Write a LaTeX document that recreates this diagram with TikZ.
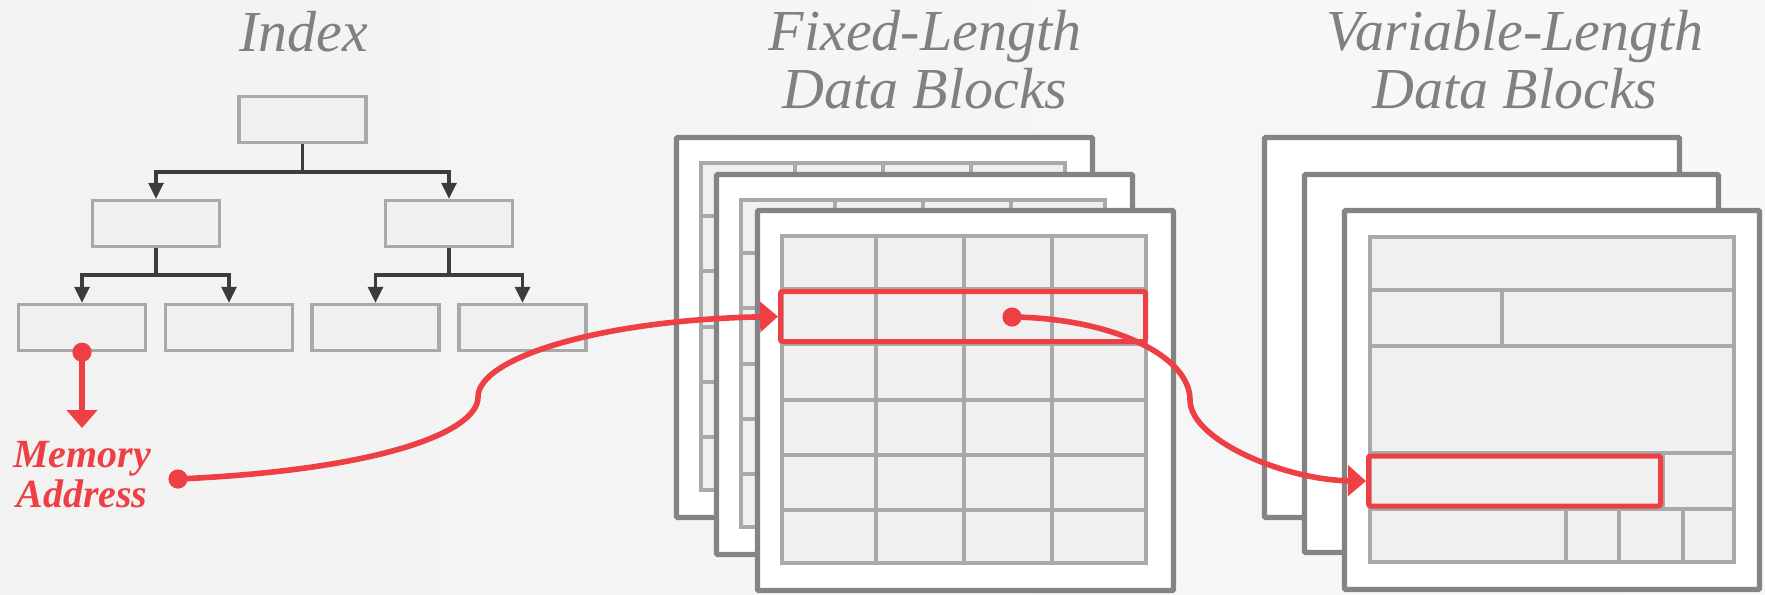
\documentclass[tikz,border=0pt]{standalone}
\usepackage{fontspec}
\setmainfont{Liberation Serif}
\usetikzlibrary{arrows.meta}
\definecolor{bgl}{HTML}{F2F2F2}
\definecolor{bgr}{HTML}{F8F8F8}
\definecolor{boxline}{HTML}{A9A9A9}
\definecolor{cellfill}{HTML}{F0F0F0}
\definecolor{pageline}{HTML}{848484}
\definecolor{treeline}{HTML}{3C3C3C}
\definecolor{redc}{HTML}{EE3F45}
\definecolor{titlec}{HTML}{808080}
\begin{document}
\begin{tikzpicture}[x=0.5pt,y=-0.5pt,
  tbox/.style={draw=boxline, fill=cellfill, line width=1.7pt, minimum width=63.5pt, minimum height=23pt, inner sep=0pt},
  tline/.style={draw=treeline, line width=1.6pt},
  tarr/.style={tline, -{Triangle[width=7.5pt,length=8pt]}},
  redarr/.style={draw=redc, line width=2.8pt, -{Triangle[width=15pt,length=9pt]}},
  redbox/.style={draw=redc, line width=2.5pt, rounded corners=1pt, inner sep=0pt},
  page/.style={draw=pageline, fill=white, line width=2.6pt, rounded corners=0.5pt},
  grid/.style={draw=boxline, line width=2pt},
  title/.style={font=\fontsize{29pt}{29pt}\selectfont\itshape, text=titlec, align=center, inner sep=0pt},
  memo/.style={font=\fontsize{20pt}{20pt}\selectfont\bfseries\itshape, text=redc, align=center, inner sep=0pt}]
\shade[left color=bgl, right color=bgr] (0,0) rectangle (1765,594);
\useasboundingbox (0,0) rectangle (1765,594);

% titles
\node[title, anchor=base] (tindex) at (304,51) {Index};
\node[title, anchor=base] (tfixed) at (925,108) {Fixed-Length\\Data Blocks};
\node[title, anchor=base] (tvar) at (1515,108) {Variable-Length\\Data Blocks};

% index tree
\node[tbox] (root) at (302.5,119.5) {};
\node[tbox] (A) at (156,223.5) {};
\node[tbox] (B) at (449,223.5) {};
\node[tbox] (L1) at (82,327.5) {};
\node[tbox] (L2) at (229,327.5) {};
\node[tbox] (L3) at (375.5,327.5) {};
\node[tbox] (L4) at (522.5,327.5) {};
\coordinate (j0) at (302.5,172);
\coordinate (ja) at (156,275);
\coordinate (jb) at (449,275);
\draw[tline] (root.south) -- (j0);
\draw[tarr] (j0) -| (A.north);
\draw[tarr] (j0) -| (B.north);
\draw[tline] (A.south) -- (ja);
\draw[tarr] (ja) -| (L1.north);
\draw[tarr] (ja) -| (L2.north);
\draw[tline] (B.south) -- (jb);
\draw[tarr] (jb) -| (L3.north);
\draw[tarr] (jb) -| (L4.north);

% fixed-length pages
\foreach \px/\py in {674/135, 714/172, 755/208} {
  \draw[page] (\px+2.5,\py+2.5) rectangle (\px+418.5,\py+382.5);
  \fill[cellfill] (\px+27,\py+28) rectangle (\px+391,\py+355);
  \foreach \cx in {96,184,272} \draw[grid] (\px+25+\cx,\py+28) -- (\px+25+\cx,\py+355);
  \foreach \ry in {55,110,166,221,276} \draw[grid] (\px+27,\py+26+\ry) -- (\px+391,\py+26+\ry);
  \draw[grid] (\px+27,\py+28) rectangle (\px+391,\py+355);
}

% variable-length pages
\draw[page] (1264.5,137.5) rectangle (1679.5,517.5);
\draw[page] (1304.5,174.5) rectangle (1718.5,552.5);
\draw[page] (1344.5,210.5) rectangle (1759.5,589.5);
\fill[cellfill] (1370,237) rectangle (1734,562);
\foreach \yy in {290,346,453,509} \draw[grid] (1370,\yy) -- (1734,\yy);
\draw[grid] (1502,290) -- (1502,346);
\draw[grid] (1663,453) -- (1663,509);
\draw[grid] (1566,509) -- (1566,562);
\draw[grid] (1619,509) -- (1619,562);
\draw[grid] (1683,509) -- (1683,562);
\draw[grid] (1370,237) rectangle (1734,562);

% red rows
\node[redbox, minimum width=182.5pt, minimum height=25pt] (frow) at (963,316.5) {};
\node[redbox, minimum width=146pt, minimum height=25pt] (vrow) at (1514.5,481) {};

% memory address
\coordinate (mtip) at (82,428);
\draw[redarr] (L1.south) -- (mtip);
\fill[redc] (L1.south) circle (4.8pt);
\node[memo, anchor=base] (mem) at (82,507) {Memory\\Address};
\coordinate (mdot) at (178,479);
\coordinate (s1) at (478,397);
\draw[redarr] (mdot) .. controls (380,470) and (478,432) .. (s1) .. controls (478,358) and (600,320) .. (frow.west);
\fill[redc] (mdot) circle (4.8pt);

\coordinate (fdot) at (1012,317);
\coordinate (s2) at (1190,400);
\draw[redarr] (fdot) .. controls (1110,318) and (1190,355) .. (s2) .. controls (1190,440) and (1285,480) .. (vrow.west);
\fill[redc] (fdot) circle (4.8pt);
\end{tikzpicture}
\end{document}
